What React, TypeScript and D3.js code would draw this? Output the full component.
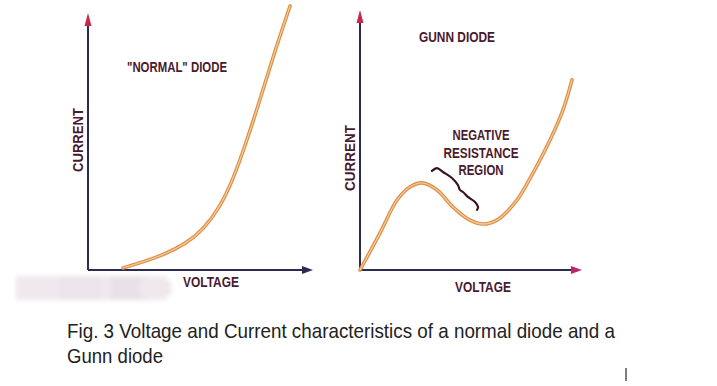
import React from "react";
import * as d3 from "d3";

// Normal diode I-V curve (voltage, current), arbitrary units 0..10
const normalVoltage = [1.56, 3.2, 4.4, 5.11, 5.87, 6.44, 7.07, 7.64, 8.22, 8.98];
const normalCurrent = [0.08, 0.51, 1.05, 1.56, 2.45, 3.5, 5.06, 6.61, 8.29, 10.27];

// Gunn diode I-V curve
const gunnVoltage = [0, 0.9, 1.67, 2.25, 2.79, 3.47, 4.19, 4.95, 5.54, 6.17, 7.07, 7.79, 8.56, 9.14, 9.55];
const gunnCurrent = [0, 1.42, 2.69, 3.19, 3.35, 3.08, 2.42, 1.92, 1.77, 1.92, 2.69, 3.73, 5.0, 6.15, 7.31];

// Brace marking the negative resistance region (in Gunn chart units)
const braceVoltage = [3.24, 3.47, 3.74, 4.14, 4.41, 4.5, 4.64, 4.86, 5.18, 5.32, 5.27];
const braceCurrent = [3.81, 3.92, 3.77, 3.54, 3.27, 3.08, 3.0, 2.81, 2.62, 2.42, 2.31];

const axisLabels = { x: "VOLTAGE", y: "CURRENT" };
const titles = ['"NORMAL" DIODE', "GUNN DIODE"];
const regionLabel = ["NEGATIVE", "RESISTANCE", "REGION"];
const regionWidths = [57, 75, 45];
const caption = [
  "Fig. 3 Voltage and Current characteristics of a normal diode and a",
  "Gunn diode",
];

const W = 717;
const H = 386;
const labelColor = "#4a1a2e";
const axisColor = "#2c2c52";
const arrowRed = "#c8284a";
const labelFont = "'Liberation Sans Narrow', 'Liberation Sans', Arial, sans-serif";

const xL = d3.scaleLinear().domain([0, 10]).range([88, 313]);
const yL = d3.scaleLinear().domain([0, 10]).range([270, 13]);
const xR = d3.scaleLinear().domain([0, 10]).range([360, 582]);
const yR = d3.scaleLinear().domain([0, 10]).range([270, 10]);

function zip(a: number[], b: number[]): [number, number][] {
  return a.map((v, i) => [v, b[i]]);
}

function Curve({ d }: { d: string }) {
  return (
    <g fill="none" strokeLinecap="round" strokeLinejoin="round">
      <path d={d} stroke="#d98f4c" strokeWidth={3.6} />
      <path d={d} stroke="#f7c98c" strokeWidth={1.3} />
    </g>
  );
}

function Axes({ x0, x1, y0, y1, yArrowColor, xArrowColor }: any) {
  return (
    <g>
      <line x1={x0} y1={y0} x2={x0} y2={y1 + 10} stroke={axisColor} strokeWidth={2} />
      <path d={`M${x0},${y1} L${x0 - 3.5},${y1 + 13} L${x0 + 3.5},${y1 + 13} Z`} fill={yArrowColor} />
      <line x1={x0} y1={y0} x2={x1 - 8} y2={y0} stroke={axisColor} strokeWidth={2} />
      <path d={`M${x1},${y0} L${x1 - 11},${y0 - 4} L${x1 - 11},${y0 + 4} Z`} fill={xArrowColor} />
    </g>
  );
}

export default function App() {
  const lineL = d3
    .line<[number, number]>()
    .x((d) => xL(d[0]))
    .y((d) => yL(d[1]))
    .curve(d3.curveBasis);
  const lineR = d3
    .line<[number, number]>()
    .x((d) => xR(d[0]))
    .y((d) => yR(d[1]))
    .curve(d3.curveCatmullRom);

  const normalPath = lineL(zip(normalVoltage, normalCurrent)) || "";
  const gunnPath = lineR(zip(gunnVoltage, gunnCurrent)) || "";
  const bracePath = lineR(zip(braceVoltage, braceCurrent)) || "";

  const lab = {
    fontFamily: labelFont,
    fontWeight: 700,
    fontSize: 14,
    fill: labelColor,
  } as any;

  return (
    <div style={{ position: "absolute", left: 0, top: 0 }}>
      <svg width={W} height={H} style={{ display: "block", background: "#fff" }}>
        <defs>
          <filter id="blur" x="-20%" y="-50%" width="140%" height="200%">
            <feGaussianBlur stdDeviation="2" />
          </filter>
        </defs>
        {/* blurred patch */}
        <g filter="url(#blur)">
          <rect x={16} y={276} width={150} height={24} fill="#efe9ee" />
          <rect x={60} y={276} width={40} height={24} fill="#ebe4ea" />
          <rect x={110} y={276} width={40} height={24} fill="#e9e1e8" />
          <rect x={140} y={277} width={32} height={22} rx={10} fill="#efe9ee" />
        </g>

        {/* Left chart */}
        <Axes x0={xL(0)} x1={xL.range()[1]} y0={yL(0)} y1={yL.range()[1]} yArrowColor={arrowRed} xArrowColor={axisColor} />
        <Curve d={normalPath} />
        <text {...lab} x={127} y={72} textLength={100} lengthAdjust="spacingAndGlyphs">{titles[0]}</text>
        <text {...lab} x={183} y={287} textLength={56} lengthAdjust="spacingAndGlyphs">{axisLabels.x}</text>
        <text {...lab} transform="translate(83,140) rotate(-90)" textAnchor="middle" textLength={64} lengthAdjust="spacingAndGlyphs">
          {axisLabels.y}
        </text>

        {/* Right chart */}
        <Axes x0={xR(0)} x1={xR.range()[1]} y0={yR(0)} y1={yR.range()[1]} yArrowColor={arrowRed} xArrowColor="#c0246a" />
        <Curve d={gunnPath} />
        <path d={bracePath} fill="none" stroke="#3a1424" strokeWidth={2.2} strokeLinecap="round" strokeLinejoin="round" />
        <text {...lab} x={419} y={42} textLength={76} lengthAdjust="spacingAndGlyphs">{titles[1]}</text>
        {regionLabel.map((t, i) => (
          <text
            key={t}
            {...lab}
            x={481 - regionWidths[i] / 2}
            y={140 + i * 17.5}
            textLength={regionWidths[i]}
            lengthAdjust="spacingAndGlyphs"
          >
            {t}
          </text>
        ))}
        <text {...lab} x={455} y={292} textLength={56} lengthAdjust="spacingAndGlyphs">{axisLabels.x}</text>
        <text {...lab} transform="translate(355,158) rotate(-90)" textAnchor="middle" textLength={66} lengthAdjust="spacingAndGlyphs">
          {axisLabels.y}
        </text>

        {/* Caption */}
        {caption.map((t, i) => (
          <text
            key={i}
            x={67}
            y={338 + i * 25}
            fontFamily={labelFont}
            fontSize={21}
            fill="#222"
            textLength={i === 0 ? 548 : 96}
            lengthAdjust="spacingAndGlyphs"
          >
            {t}
          </text>
        ))}
        {/* text cursor */}
        <line x1={626} y1={368} x2={626} y2={381} stroke="#000" strokeWidth={1} />
      </svg>
    </div>
  );
}
